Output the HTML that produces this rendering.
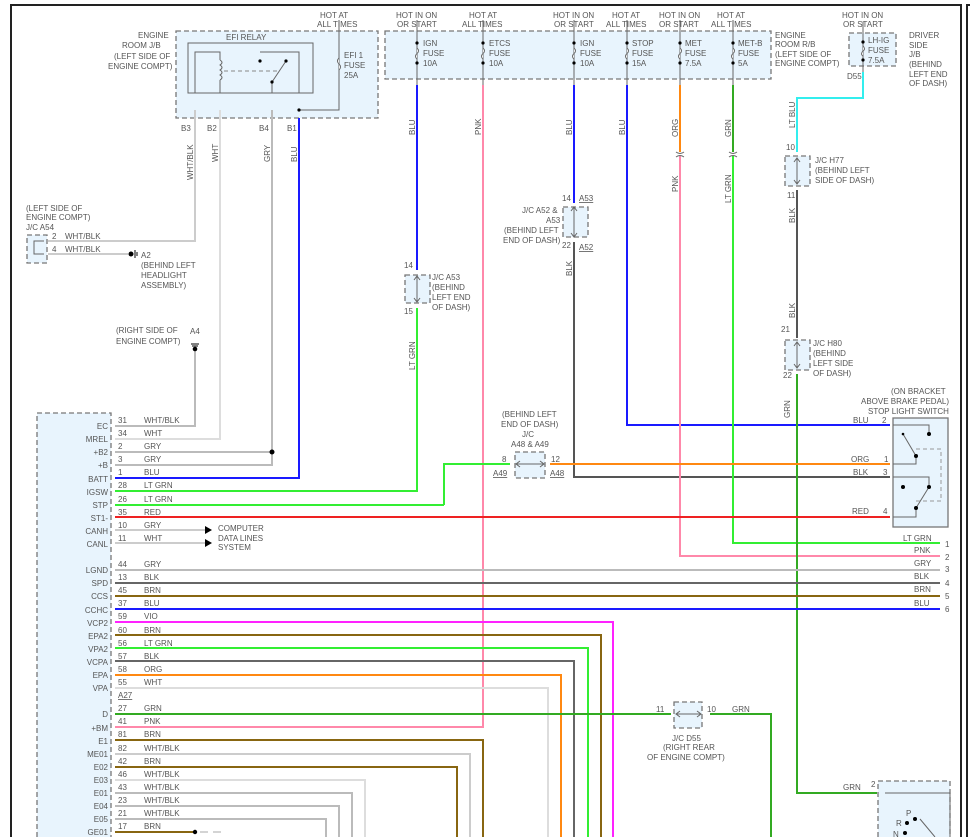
<!DOCTYPE html>
<html><head><meta charset="utf-8"><style>
html,body{margin:0;padding:0;background:#fff;}
svg{display:block;}
text{font-family:"Liberation Sans",sans-serif;font-size:8px;fill:#555;}
.box{fill:#e8f4fd;stroke:#777;stroke-width:1.3;stroke-dasharray:5,3;}
.w{fill:none;stroke-width:2;}
</style></head><body>
<svg width="970" height="837" viewBox="0 0 970 837" xmlns="http://www.w3.org/2000/svg">
<path d="M11,837 V5 H961 V837" fill="none" stroke="#222" stroke-width="2"/>
<path d="M967,837 V5 H970" fill="none" stroke="#222" stroke-width="2"/>

<rect class="box" x="176" y="31" width="202" height="87"/>
<rect class="box" x="385" y="31" width="386" height="48"/>
<rect class="box" x="849" y="33" width="47" height="33"/>
<rect class="box" x="37" y="413" width="74" height="430"/>
<rect class="box" x="27" y="235" width="20" height="28"/>
<rect class="box" x="405" y="275" width="25" height="28"/>
<rect class="box" x="563" y="207" width="25" height="30"/>
<rect class="box" x="785" y="156" width="25" height="30"/>
<rect class="box" x="785" y="340" width="25" height="30"/>
<rect class="box" x="515" y="452" width="30" height="26"/>
<rect class="box" x="674" y="702" width="28" height="26"/>
<rect class="box" x="878" y="781" width="72" height="60"/>
<rect x="893" y="418" width="55" height="109" fill="#e8f4fd" stroke="#777" stroke-width="1.3"/>

<rect x="188" y="43" width="125" height="50" fill="none" stroke="#666" stroke-width="1"/>
<path d="M195,93 V52 H220 V60 M220,80 V93 M220,60 q4,2.5 0,5 q4,2.5 0,5 q4,2.5 0,5 q4,2.5 0,5" fill="none" stroke="#666"/>
<path d="M260,52 H299 V93 M272,93 V82 L286,61" fill="none" stroke="#666"/>
<circle cx="260" cy="61" r="1.6" fill="#000"/><circle cx="286" cy="61" r="1.6" fill="#000"/><circle cx="272" cy="82" r="1.6" fill="#000"/>
<path d="M224,71 H278" stroke="#888" stroke-dasharray="4,3"/>
<path d="M339,20 V110 H299" fill="none" stroke="#666"/><circle cx="299" cy="110" r="1.6" fill="#000"/>
<path d="M339,58 q-3,3 0,6 q3,3 0,6" fill="#fff" stroke="#666"/>

<path class="w" d="M195,110 V241 H48" stroke="#ccc"/>
<path class="w" d="M220,110 V439 H115" stroke="#ddd"/>
<path class="w" d="M272,110 V465 H115 M272,452 H115" stroke="#bbb"/>
<circle cx="272" cy="452" r="2.5" fill="#000"/>
<path class="w" d="M299,118 V478 H115" stroke="#1a1aff"/>
<path class="w" d="M48,254 H128" stroke="#ccc"/>
<circle cx="131" cy="254" r="2.5" fill="#000"/><path d="M135,250 v8 M137,252 v4" stroke="#000"/>
<path class="w" d="M195,350 V426 H115" stroke="#bbb"/>
<path d="M191,344 h8 M192,346 h6" stroke="#000"/><circle cx="195" cy="349" r="2.3" fill="#000"/>

<g stroke="#666" fill="none">
<path d="M417,20 V85 M483,20 V85 M574,20 V85 M627,20 V85 M680,20 V85 M733,20 V85 M863,22 V72"/>
</g>
<g fill="#000">
<circle cx="417" cy="43" r="1.6"/><circle cx="417" cy="63" r="1.6"/><circle cx="483" cy="43" r="1.6"/><circle cx="483" cy="63" r="1.6"/>
<circle cx="574" cy="43" r="1.6"/><circle cx="574" cy="63" r="1.6"/><circle cx="627" cy="43" r="1.6"/><circle cx="627" cy="63" r="1.6"/>
<circle cx="680" cy="43" r="1.6"/><circle cx="680" cy="63" r="1.6"/><circle cx="733" cy="43" r="1.6"/><circle cx="733" cy="63" r="1.6"/>
<circle cx="863" cy="42" r="1.6"/><circle cx="863" cy="60" r="1.6"/>
</g>
<g fill="#fff" stroke="#666">
<path d="M417,48 q3,3 0,5.5 q-3,3 0,5.5"/><path d="M483,48 q3,3 0,5.5 q-3,3 0,5.5"/><path d="M574,48 q3,3 0,5.5 q-3,3 0,5.5"/>
<path d="M627,48 q3,3 0,5.5 q-3,3 0,5.5"/><path d="M680,48 q3,3 0,5.5 q-3,3 0,5.5"/><path d="M733,48 q3,3 0,5.5 q-3,3 0,5.5"/>
<path d="M863,46 q3,3 0,5 q-3,3 0,5"/>
</g>

<path class="w" d="M417,85 V270" stroke="#1a1aff"/>
<path class="w" d="M417,308 V491 H115" stroke="#33ee33"/>
<path class="w" d="M483,85 V727 H115" stroke="#ff88aa"/>
<path class="w" d="M574,85 V203" stroke="#1a1aff"/>
<path class="w" d="M574,242 V477 H890" stroke="#555"/>
<path class="w" d="M627,85 V425 H890" stroke="#1a1aff"/>
<path class="w" d="M680,85 V152" stroke="#ff8811"/>
<path class="w" d="M680,156 V556 H940" stroke="#ff88aa"/>
<path class="w" d="M733,85 V152" stroke="#33aa22"/>
<path class="w" d="M733,156 V543 H940" stroke="#33ee33"/>
<path d="M676,152 q4,3 8,0 M676,157 q4,-3 8,0 M729,152 q4,3 8,0 M729,157 q4,-3 8,0" fill="none" stroke="#666"/>
<path class="w" d="M863,72 V98 H797 V152" stroke="#33eeee"/>
<path class="w" d="M797,190 V338" stroke="#555"/>
<path class="w" d="M797,374 V793 H877" stroke="#33aa22"/>
<path class="w" d="M444,505 V464 H510" stroke="#33ee33"/>
<path class="w" d="M444,505 H115" stroke="#33ee33"/>
<path class="w" d="M550,464 H890" stroke="#ff8811"/>
<path class="w" d="M115,517 H890" stroke="#ee2222"/>
<path class="w" d="M115,530 H205 M115,543 H205" stroke="#ccc"/>
<path d="M205,526 l7,4 l-7,4z M205,539 l7,4 l-7,4z" fill="#000"/>
<path class="w" d="M115,570 H940" stroke="#bbb"/>
<path class="w" d="M115,583 H940" stroke="#666"/>
<path class="w" d="M115,596 H940" stroke="#886611"/>
<path class="w" d="M115,609 H940" stroke="#1a1aff"/>
<path class="w" d="M115,622 H613 V837" stroke="#ff22ff"/>
<path class="w" d="M115,635 H601 V837" stroke="#886611"/>
<path class="w" d="M115,648 H588 V837" stroke="#33ee33"/>
<path class="w" d="M115,661 H574 V837" stroke="#666"/>
<path class="w" d="M115,675 H561 V837" stroke="#ff8811"/>
<path class="w" d="M115,688 H548 V837" stroke="#ddd"/>
<path class="w" d="M115,714 H671 M710,714 H771 V837" stroke="#33aa22"/>
<path class="w" d="M115,740 H483 V837" stroke="#886611"/>
<path class="w" d="M115,754 H470 V837" stroke="#ccc"/>
<path class="w" d="M115,767 H457 V837" stroke="#886611"/>
<path class="w" d="M115,780 H365 V837" stroke="#ddd"/>
<path class="w" d="M115,793 H352 V837" stroke="#bbb"/>
<path class="w" d="M115,806 H339 V837" stroke="#bbb"/>
<path class="w" d="M115,819 H326 V837" stroke="#bbb"/>
<path class="w" d="M115,832 H195" stroke="#886611"/>
<circle cx="195" cy="832" r="2.2" fill="#000"/><path d="M200,832 h8 M213,832 h8" stroke="#aaa"/>

<g stroke="#666" fill="none">
<path d="M417,276 V302 M414,280 l3,-4 l3,4 M414,298 l3,4 l3,-4"/>
<path d="M574,207 V237 M571,211 l3,-4 l3,4 M571,233 l3,4 l3,-4"/>
<path d="M797,158 V184 M794,162 l3,-4 l3,4 M794,180 l3,4 l3,-4"/>
<path d="M797,342 V368 M794,346 l3,-4 l3,4 M794,364 l3,4 l3,-4"/>
<path d="M516,464 H544 M520,461 l-4,3 l4,3 M540,461 l4,3 l-4,3"/>
<path d="M676,714 H701 M680,711 l-4,3 l4,3 M697,711 l4,3 l-4,3"/>
<path d="M44,241 H34 V254 H44"/>
<path d="M893,425 H929 V434 M903,434 L916,456 V464 H893"/>
<path d="M893,477 H929 V487 M916,508 L929,487 M916,508 V517 H893"/>
<path d="M885,793 H950 V837 M920,819 L935,837"/>
<path d="M916,449 H941 V501 H916" stroke="#999" stroke-dasharray="4,3"/>
</g>
<g fill="#000"><circle cx="903" cy="434" r="1.3"/><circle cx="929" cy="434" r="2"/><circle cx="916" cy="456" r="2"/>
<circle cx="903" cy="487" r="2"/><circle cx="929" cy="487" r="2"/><circle cx="916" cy="508" r="2"/>
<circle cx="915" cy="819" r="2"/><circle cx="907" cy="823" r="2"/><circle cx="905" cy="833" r="2"/></g>

<g>
<text x="320" y="18">HOT AT</text><text x="317" y="27">ALL TIMES</text>
<text x="396" y="18">HOT IN ON</text><text x="397" y="27">OR START</text>
<text x="469" y="18">HOT AT</text><text x="462" y="27">ALL TIMES</text>
<text x="553" y="18">HOT IN ON</text><text x="554" y="27">OR START</text>
<text x="612" y="18">HOT AT</text><text x="606" y="27">ALL TIMES</text>
<text x="659" y="18">HOT IN ON</text><text x="659" y="27">OR START</text>
<text x="717" y="18">HOT AT</text><text x="711" y="27">ALL TIMES</text>
<text x="842" y="18">HOT IN ON</text><text x="843" y="27">OR START</text>
<text x="138" y="38">ENGINE</text><text x="122" y="48">ROOM J/B</text><text x="114" y="59">(LEFT SIDE OF</text><text x="108" y="69">ENGINE COMPT)</text>
<text x="226" y="40">EFI RELAY</text>
<text x="344" y="58">EFI 1</text><text x="344" y="68">FUSE</text><text x="344" y="78">25A</text>
<text x="423" y="46">IGN</text><text x="423" y="56">FUSE</text><text x="423" y="66">10A</text>
<text x="489" y="46">ETCS</text><text x="489" y="56">FUSE</text><text x="489" y="66">10A</text>
<text x="580" y="46">IGN</text><text x="580" y="56">FUSE</text><text x="580" y="66">10A</text>
<text x="632" y="46">STOP</text><text x="632" y="56">FUSE</text><text x="632" y="66">15A</text>
<text x="685" y="46">MET</text><text x="685" y="56">FUSE</text><text x="685" y="66">7.5A</text>
<text x="738" y="46">MET-B</text><text x="738" y="56">FUSE</text><text x="738" y="66">5A</text>
<text x="775" y="38">ENGINE</text><text x="775" y="47">ROOM R/B</text><text x="775" y="57">(LEFT SIDE OF</text><text x="775" y="66">ENGINE COMPT)</text>
<text x="868" y="43">LH-IG</text><text x="868" y="53">FUSE</text><text x="868" y="63">7.5A</text>
<text x="909" y="38">DRIVER</text><text x="909" y="48">SIDE</text><text x="909" y="57">J/B</text><text x="909" y="67">(BEHIND</text><text x="909" y="77">LEFT END</text><text x="909" y="86">OF DASH)</text>
<text x="847" y="79">D55</text>
<text x="181" y="131">B3</text><text x="207" y="131">B2</text><text x="259" y="131">B4</text><text x="287" y="131">B1</text>
</g>
<g>
<text transform="translate(193,180) rotate(-90)">WHT/BLK</text>
<text transform="translate(218,162) rotate(-90)">WHT</text>
<text transform="translate(270,162) rotate(-90)">GRY</text>
<text transform="translate(297,162) rotate(-90)">BLU</text>
<text transform="translate(415,135) rotate(-90)">BLU</text>
<text transform="translate(481,135) rotate(-90)">PNK</text>
<text transform="translate(572,135) rotate(-90)">BLU</text>
<text transform="translate(625,135) rotate(-90)">BLU</text>
<text transform="translate(678,137) rotate(-90)">ORG</text>
<text transform="translate(731,137) rotate(-90)">GRN</text>
<text transform="translate(678,192) rotate(-90)">PNK</text>
<text transform="translate(731,203) rotate(-90)">LT GRN</text>
<text transform="translate(795,128) rotate(-90)">LT BLU</text>
<text transform="translate(795,223) rotate(-90)">BLK</text>
<text transform="translate(795,318) rotate(-90)">BLK</text>
<text transform="translate(790,418) rotate(-90)">GRN</text>
<text transform="translate(415,370) rotate(-90)">LT GRN</text>
<text transform="translate(572,276) rotate(-90)">BLK</text>
</g>
<g>
<text x="26" y="211">(LEFT SIDE OF</text><text x="26" y="220">ENGINE COMPT)</text><text x="26" y="230">J/C A54</text>
<text x="52" y="239">2</text><text x="65" y="239">WHT/BLK</text><text x="52" y="252">4</text><text x="65" y="252">WHT/BLK</text>
<text x="141" y="258">A2</text><text x="141" y="268">(BEHIND LEFT</text><text x="141" y="278">HEADLIGHT</text><text x="141" y="288">ASSEMBLY)</text>
<text x="116" y="333">(RIGHT SIDE OF</text><text x="116" y="344">ENGINE COMPT)</text><text x="190" y="334">A4</text>
<text x="404" y="268">14</text><text x="432" y="280">J/C A53</text><text x="432" y="290">(BEHIND</text><text x="432" y="300">LEFT END</text><text x="432" y="310">OF DASH)</text><text x="404" y="314">15</text>
<text x="562" y="201">14</text><text x="579" y="201" text-decoration="underline">A53</text>
<text x="522" y="213">J/C A52 &amp;</text><text x="546" y="223">A53</text><text x="504" y="233">(BEHIND LEFT</text><text x="503" y="243">END OF DASH)</text>
<text x="562" y="248">22</text><text x="579" y="250" text-decoration="underline">A52</text>
<text x="786" y="150">10</text><text x="815" y="163">J/C H77</text><text x="815" y="173">(BEHIND LEFT</text><text x="815" y="183">SIDE OF DASH)</text><text x="787" y="198">11</text>
<text x="781" y="332">21</text><text x="813" y="346">J/C H80</text><text x="813" y="356">(BEHIND</text><text x="813" y="366">LEFT SIDE</text><text x="813" y="376">OF DASH)</text><text x="783" y="378">22</text>
<text x="502" y="417">(BEHIND LEFT</text><text x="501" y="427">END OF DASH)</text><text x="522" y="437">J/C</text><text x="511" y="447">A48 &amp; A49</text>
<text x="502" y="462">8</text><text x="551" y="462">12</text>
<text x="493" y="476" text-decoration="underline">A49</text><text x="550" y="476" text-decoration="underline">A48</text>
<text x="656" y="712">11</text><text x="707" y="712">10</text><text x="732" y="712">GRN</text>
<text x="672" y="741">J/C D55</text><text x="663" y="750">(RIGHT REAR</text><text x="647" y="760">OF ENGINE COMPT)</text>
<text x="891" y="394">(ON BRACKET</text><text x="861" y="404">ABOVE BRAKE PEDAL)</text><text x="868" y="414">STOP LIGHT SWITCH</text>
<text x="853" y="423">BLU</text><text x="882" y="423">2</text>
<text x="851" y="462">ORG</text><text x="884" y="462">1</text>
<text x="853" y="475">BLK</text><text x="883" y="475">3</text>
<text x="852" y="514">RED</text><text x="883" y="514">4</text>
<text x="903" y="541">LT GRN</text><text x="945" y="547">1</text>
<text x="914" y="553">PNK</text><text x="945" y="560">2</text>
<text x="914" y="566">GRY</text><text x="945" y="572">3</text>
<text x="914" y="579">BLK</text><text x="945" y="586">4</text>
<text x="914" y="592">BRN</text><text x="945" y="599">5</text>
<text x="914" y="606">BLU</text><text x="945" y="612">6</text>
<text x="843" y="790">GRN</text><text x="871" y="787">2</text>
<text x="906" y="816">P</text><text x="896" y="826">R</text><text x="893" y="837">N</text>
<text x="218" y="531">COMPUTER</text><text x="218" y="541">DATA LINES</text><text x="218" y="550">SYSTEM</text>
</g>
<g text-anchor="end">
<text x="108" y="429">EC</text><text x="108" y="442">MREL</text><text x="108" y="455">+B2</text><text x="108" y="468">+B</text><text x="108" y="482">BATT</text>
<text x="108" y="495">IGSW</text><text x="108" y="508">STP</text><text x="108" y="521">ST1-</text><text x="108" y="534">CANH</text><text x="108" y="547">CANL</text>
<text x="108" y="573">LGND</text><text x="108" y="586">SPD</text><text x="108" y="599">CCS</text><text x="108" y="613">CCHC</text><text x="108" y="626">VCP2</text>
<text x="108" y="639">EPA2</text><text x="108" y="652">VPA2</text><text x="108" y="665">VCPA</text><text x="108" y="678">EPA</text><text x="108" y="691">VPA</text>
<text x="108" y="717">D</text><text x="108" y="731">+BM</text><text x="108" y="744">E1</text><text x="108" y="757">ME01</text><text x="108" y="770">E02</text>
<text x="108" y="783">E03</text><text x="108" y="796">E01</text><text x="108" y="809">E04</text><text x="108" y="822">E05</text><text x="108" y="835">GE01</text>
</g>
<g>
<text x="118" y="423">31</text><text x="144" y="423">WHT/BLK</text>
<text x="118" y="436">34</text><text x="144" y="436">WHT</text>
<text x="118" y="449">2</text><text x="144" y="449">GRY</text>
<text x="118" y="462">3</text><text x="144" y="462">GRY</text>
<text x="118" y="475">1</text><text x="144" y="475">BLU</text>
<text x="118" y="488">28</text><text x="144" y="488">LT GRN</text>
<text x="118" y="502">26</text><text x="144" y="502">LT GRN</text>
<text x="118" y="515">35</text><text x="144" y="515">RED</text>
<text x="118" y="528">10</text><text x="144" y="528">GRY</text>
<text x="118" y="541">11</text><text x="144" y="541">WHT</text>
<text x="118" y="567">44</text><text x="144" y="567">GRY</text>
<text x="118" y="580">13</text><text x="144" y="580">BLK</text>
<text x="118" y="593">45</text><text x="144" y="593">BRN</text>
<text x="118" y="606">37</text><text x="144" y="606">BLU</text>
<text x="118" y="619">59</text><text x="144" y="619">VIO</text>
<text x="118" y="633">60</text><text x="144" y="633">BRN</text>
<text x="118" y="646">56</text><text x="144" y="646">LT GRN</text>
<text x="118" y="659">57</text><text x="144" y="659">BLK</text>
<text x="118" y="672">58</text><text x="144" y="672">ORG</text>
<text x="118" y="685">55</text><text x="144" y="685">WHT</text>
<text x="118" y="698" text-decoration="underline">A27</text>
<text x="118" y="711">27</text><text x="144" y="711">GRN</text>
<text x="118" y="724">41</text><text x="144" y="724">PNK</text>
<text x="118" y="737">81</text><text x="144" y="737">BRN</text>
<text x="118" y="751">82</text><text x="144" y="751">WHT/BLK</text>
<text x="118" y="764">42</text><text x="144" y="764">BRN</text>
<text x="118" y="777">46</text><text x="144" y="777">WHT/BLK</text>
<text x="118" y="790">43</text><text x="144" y="790">WHT/BLK</text>
<text x="118" y="803">23</text><text x="144" y="803">WHT/BLK</text>
<text x="118" y="816">21</text><text x="144" y="816">WHT/BLK</text>
<text x="118" y="829">17</text><text x="144" y="829">BRN</text>
</g>
</svg>
</body></html>
